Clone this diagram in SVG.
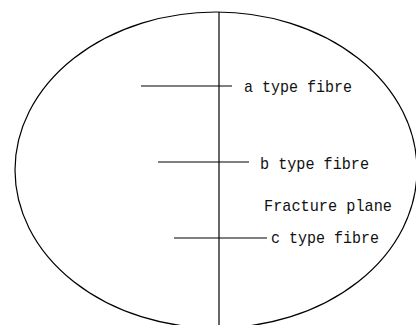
<svg xmlns="http://www.w3.org/2000/svg" width="416" height="325" viewBox="0 0 416 325">
<style>
.l{stroke:#000;stroke-width:1.2;fill:none}
.t{font-family:"Liberation Mono","DejaVu Sans Mono",monospace;font-size:17px;fill:#111}
</style>
<rect width="416" height="325" fill="#fff"/>
<g id="outline"><ellipse class="l" cx="216" cy="170" rx="201" ry="158" stroke-width="1"/></g>
<g id="connectors">
<line class="l" x1="219" y1="12" x2="219" y2="325"/>
<line class="l" x1="141" y1="86" x2="232" y2="86"/>
<line class="l" x1="158" y1="162" x2="249" y2="162"/>
<line class="l" x1="174" y1="238" x2="267" y2="238"/>
</g>
<g id="a"><text class="t" x="244" y="92" textLength="108" lengthAdjust="spacingAndGlyphs">a type fibre</text></g>
<g id="b"><text class="t" x="260" y="169" textLength="109" lengthAdjust="spacingAndGlyphs">b type fibre</text></g>
<g id="plane"><text class="t" x="264" y="211" textLength="128" lengthAdjust="spacingAndGlyphs">Fracture plane</text></g>
<g id="c"><text class="t" x="271" y="243" textLength="108" lengthAdjust="spacingAndGlyphs">c type fibre</text></g>
</svg>
